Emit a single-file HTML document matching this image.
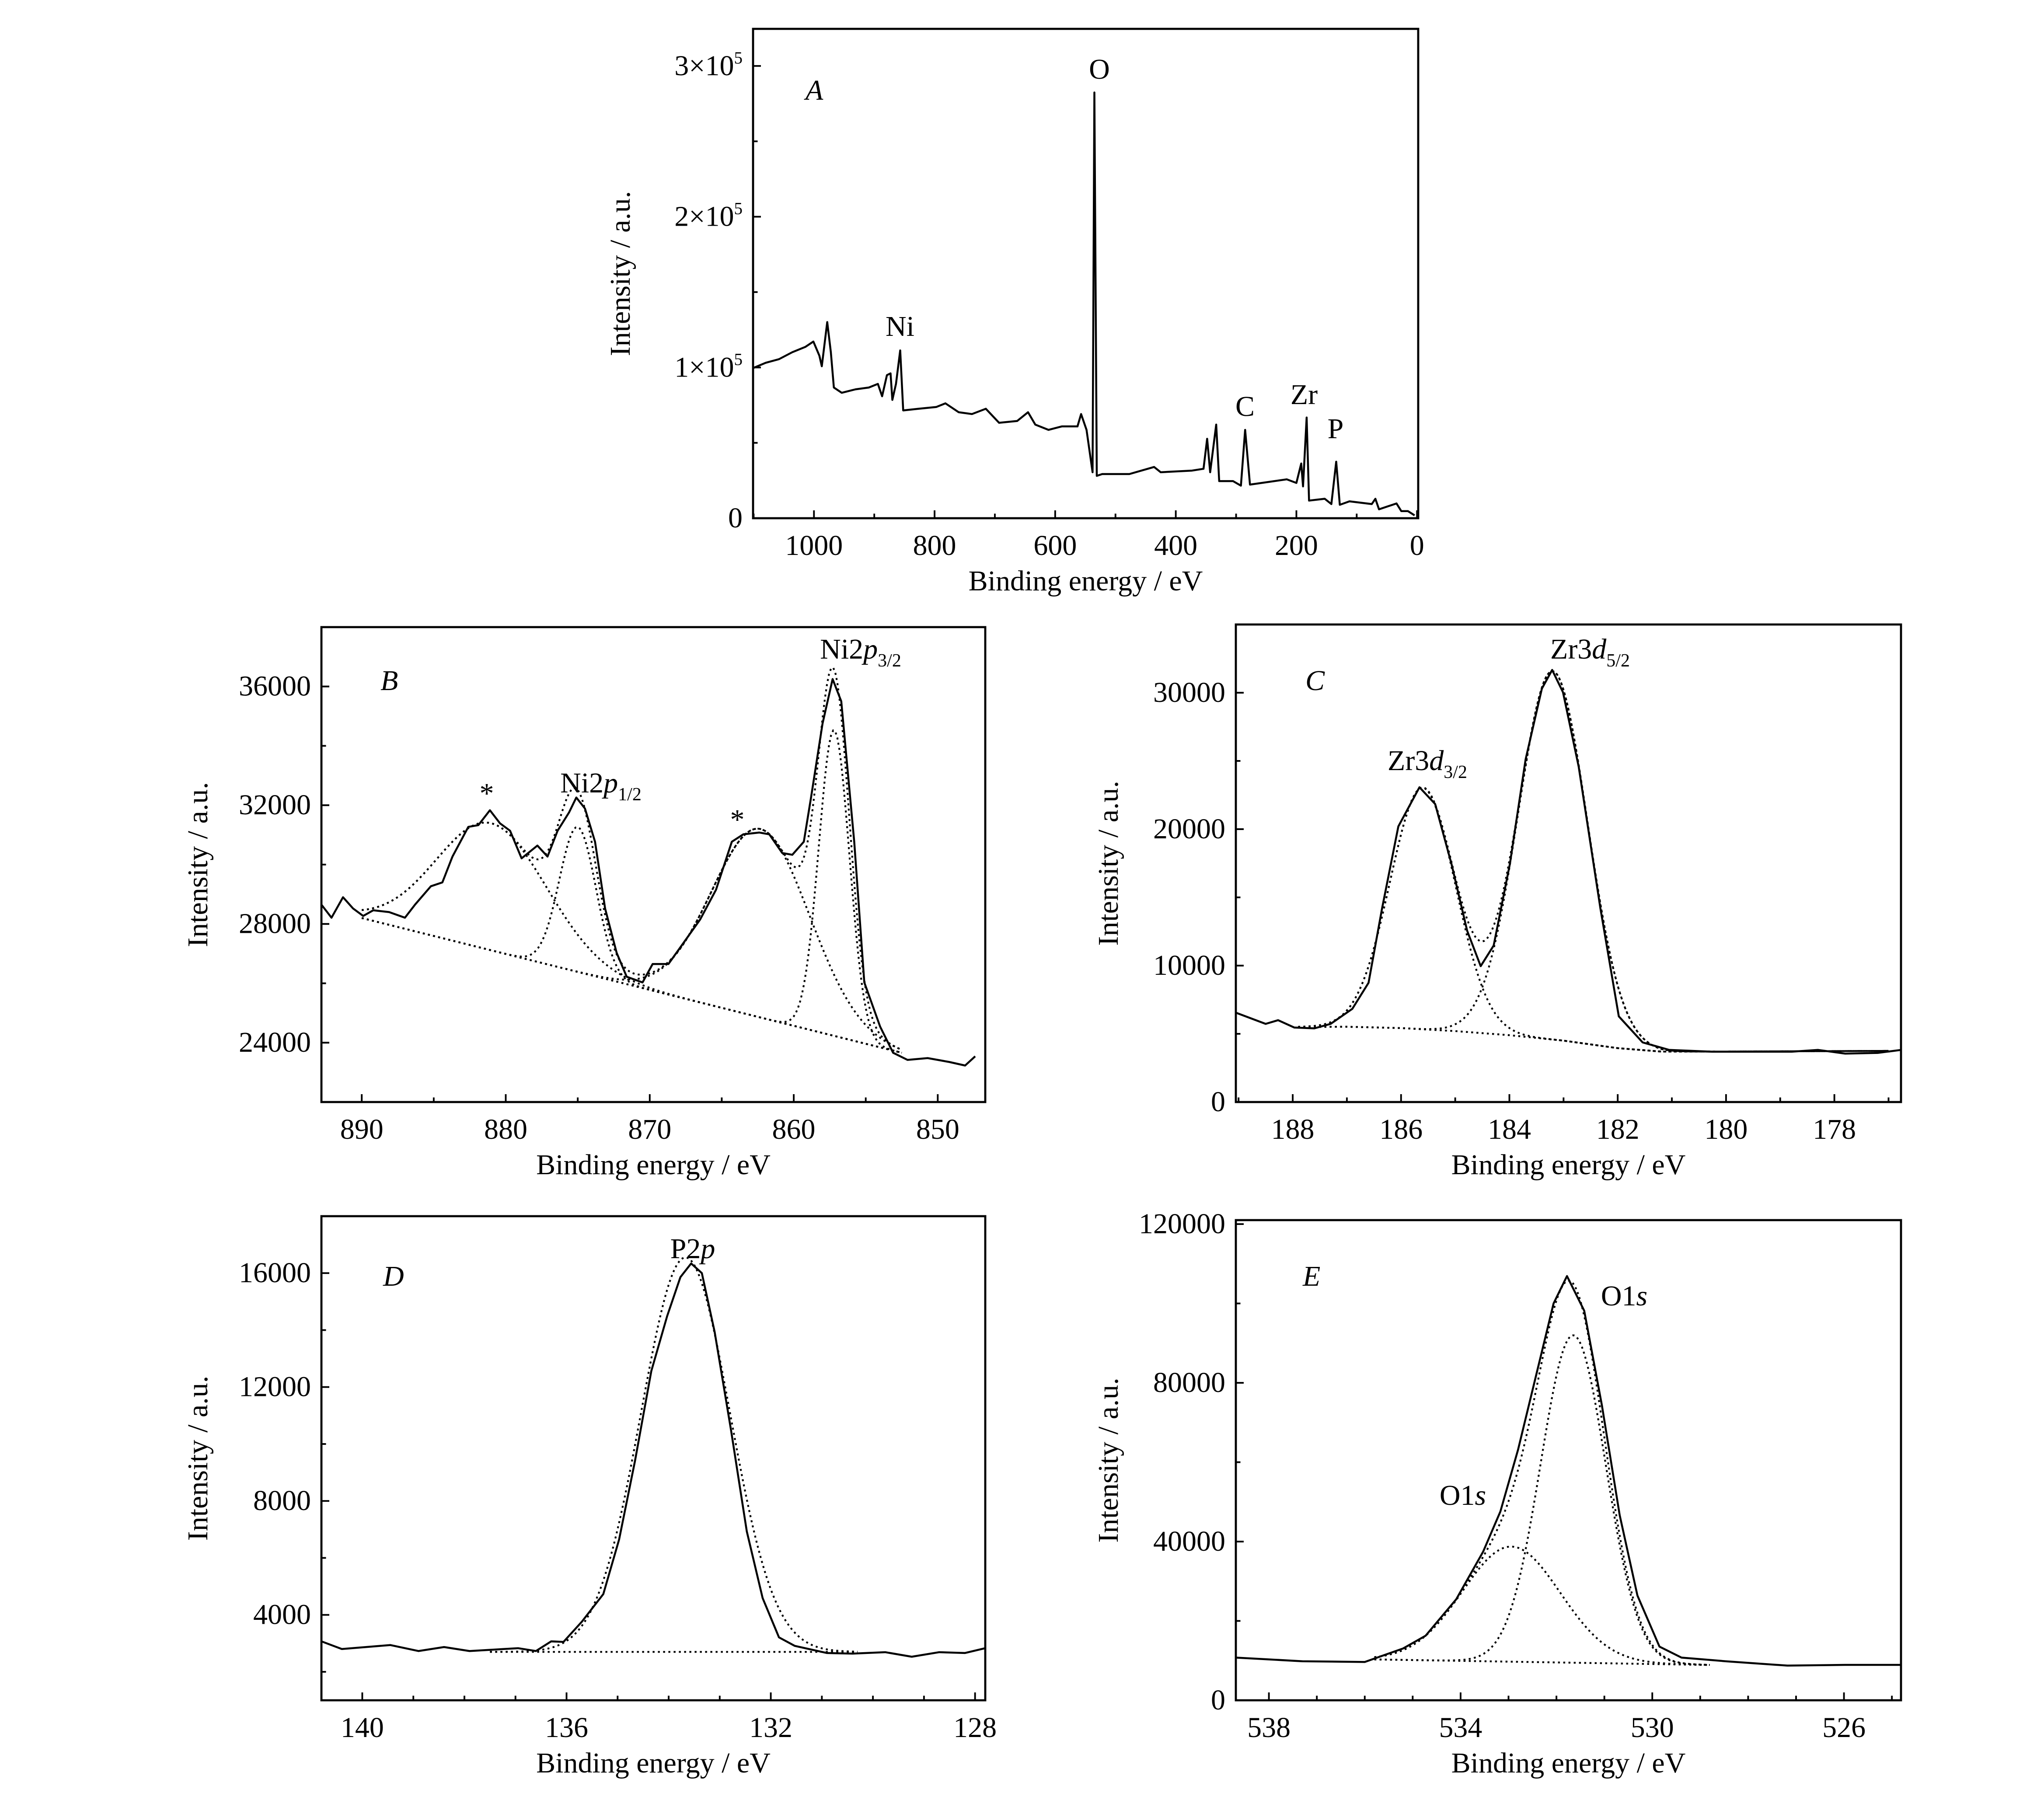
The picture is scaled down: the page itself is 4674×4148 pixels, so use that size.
<!DOCTYPE html>
<html><head><meta charset="utf-8"><style>
html,body{margin:0;padding:0;background:#fff;}
svg{display:block;}
text{font-family:"Liberation Serif",serif;fill:#000;}
</style></head><body>
<svg id="fig" xmlns="http://www.w3.org/2000/svg" width="4674" height="4148" viewBox="0 0 1558 1382.67"></svg>
<script>
// ---------- DATA ----------
// Panel A survey
const aEnergy=[1101,1080,1058,1036,1014,1001,991,987,978,972,967,954,931,909,894,887,879,873,870,864,857,852,827,797,782,760,738,715,693,663,645,633,611,589,563,557,548,538,535,531,522,477,436,425,373,354,348,343,333,328,305,292,285,277,216,200,192,189,183,179,153,142,134,128,112,75,69,63,34,26,15,4];
const aIntensity=[99600,103100,105500,110100,113700,117200,107800,100800,130100,110100,86700,83200,85500,86700,89100,80900,94900,96100,78500,89100,111300,71500,72600,73800,76200,70300,69100,72600,63300,64500,70300,62100,58600,60900,60900,69100,58600,30500,282400,28100,29300,29300,34000,30500,31600,32800,52700,30500,62100,24600,24600,21600,58600,22300,25800,23400,36300,21100,66800,11700,12900,9400,37500,8900,11200,9400,12900,5900,9800,4700,4700,1900];
const aTicksX=[1000,800,600,400,200,0];
const aTicksY=[0,100000,200000,300000];
const aTickLabelsY=["0","1","2","3"];
// Panel B Ni2p
const bEnergy=[892.8,892.1,891.3,890.6,889.9,889.2,888.1,887,886.3,885.2,884.4,883.7,882.6,881.9,881.1,880.4,879.7,878.9,877.8,877.1,876.4,875.6,875.1,874.5,873.8,873.1,872.3,871.6,870.5,869.8,868.7,867.6,866.5,865.4,864.3,863.5,862.4,861.7,860.8,860.1,859.3,858.8,858.0,857.3,856.7,855.8,855.1,854.0,853.1,852.1,850.7,849.2,848.1,847.4];
const bIntensity=[28650,28210,28900,28520,28270,28460,28400,28210,28650,29270,29400,30270,31270,31330,31830,31390,31140,30210,30640,30270,31140,31760,32260,31890,30770,28520,27030,26220,26030,26650,26650,27400,28150,29150,30770,31020,31080,31020,30390,30330,30770,32260,34750,36250,35500,30770,26030,24540,23660,23420,23480,23350,23230,23540];
const bBaseE=[890,852];
const bBaseI=[28200,23600];
const bPeakCenter=[881,875,862.3,857.2];
const bPeakHeight=[4280,4880,6350,10300];
const bPeakFwhm=[9,3,8,2.5];
const bTicksX=[890,880,870,860,850];
const bTicksY=[24000,28000,32000,36000];
// Panel C Zr3d
const cEnergy=[189.05,188.5,188.27,187.97,187.6,187.3,186.9,186.6,186.35,186.05,185.66,185.37,185.07,184.78,184.53,184.29,183.99,183.7,183.4,183.21,183.01,182.72,182.32,181.98,181.54,181.05,180.26,179.47,178.79,178.3,177.8,177.2,176.77];
const cIntensity=[6550,5730,6000,5460,5400,5730,6830,8740,14200,20200,23070,21840,17470,12560,9960,11470,17470,25120,30300,31670,30030,24570,14200,6280,4370,3820,3690,3690,3690,3820,3550,3600,3820];
const cBgE=[187.9,187,186,185,184,183,182,181.2,180,177];
const cBgI=[5500,5520,5420,5200,4900,4500,3950,3700,3700,3750];
const cPeakCenter=[185.6,183.2];
const cPeakHeight=[17700,27000];
const cPeakFwhm=[1.42,1.5];
const cTicksX=[188,186,184,182,180,178];
const cTicksY=[0,10000,20000,30000];
// Panel D P2p
const dEnergy=[140.8,140.4,139.45,138.9,138.4,137.9,136.95,136.6,136.3,136.06,135.7,135.28,134.97,134.66,134.34,134.03,133.77,133.56,133.35,133.1,132.78,132.47,132.16,131.84,131.53,130.9,130.4,129.76,129.24,128.7,128.2,127.8];
const dIntensity=[3070,2800,2940,2730,2870,2730,2830,2730,3070,3050,3760,4730,6650,9400,12560,14490,15860,16340,16000,13940,10500,6930,4590,3210,2910,2660,2640,2690,2530,2690,2660,2830];
const dBaseE=[137.5,130.3];
const dBaseI=[2700,2700];
const dPeakCenter=[133.67];
const dPeakHeight=[13850];
const dPeakFwhm=[2.05];
const dTicksX=[140,136,132,128];
const dTicksY=[4000,8000,12000,16000];
// Panel E O1s
const eEnergy=[538.69,537.3,536.0,535.2,534.73,534.09,533.53,533.17,532.8,532.43,532.06,531.78,531.42,531.05,530.68,530.31,529.85,529.39,528.47,527.18,525.98,524.81];
const eIntensity=[10760,9840,9660,13060,16280,25480,37440,47560,63200,81600,100000,106900,98160,74240,46640,26400,13520,10760,9840,8740,8920,8920];
const eBaseE=[535.8,528.8];
const eBaseI=[10300,8900];
const ePeakCenter=[531.65,532.94];
const ePeakHeight=[82500,29000];
const ePeakFwhm=[1.6,2.4];
const eTicksX=[538,534,530,526];
const eTicksY=[0,40000,80000,120000];

// ---------- DRAW ----------
const NS="http://www.w3.org/2000/svg";
const svg=document.getElementById('fig');
function mk(tag,attrs,parent){const e=document.createElementNS(NS,tag);for(const k in attrs)e.setAttribute(k,attrs[k]);(parent||svg).appendChild(e);return e;}
function scales(p){
  const sx=v=>p.x0+(p.eMax-v)/(p.eMax-p.eMin)*(p.x1-p.x0);
  const sy=v=>p.y1-(v-p.iMin)/(p.iMax-p.iMin)*(p.y1-p.y0);
  return [sx,sy];
}
function gauss(E,c,h,f){const s=f/2.3548;return h*Math.exp(-0.5*((E-c)/s)**2);}
function lin(E,xs,ys){
  if(E>=xs[0])return ys[0];
  for(let i=1;i<xs.length;i++){if(E>=xs[i]){const t=(xs[i-1]-E)/(xs[i-1]-xs[i]);return ys[i-1]+t*(ys[i]-ys[i-1]);}}
  return ys[ys.length-1];
}
function pathFrom(xs,ys,sx,sy){let d='';for(let i=0;i<xs.length;i++)d+=(i?'L':'M')+sx(xs[i]).toFixed(2)+' '+sy(ys[i]).toFixed(2);return d;}

function frame(p,g){
  const [sx,sy]=scales(p);
  const box=mk('rect',{x:p.x0,y:p.y0,width:p.x1-p.x0,height:p.y1-p.y0,fill:'none',stroke:'#000','stroke-width':1.6},g);
  
  
  for(let v=Math.ceil(p.eMin/p.xMinor)*p.xMinor;v<=p.eMax+1e-9;v+=p.xMinor){
    const major=p.ticksX.some(t=>Math.abs(t-v)<1e-6);
    const x=sx(v);if(x<p.x0-0.5||x>p.x1+0.5)continue;
    mk('line',{x1:x,x2:x,y1:p.y1,y2:p.y1-(major?6:3.5),stroke:'#000','stroke-width':1.3},g);
  }
  p.ticksX.forEach(t=>{
    const tl=mk('text',{x:sx(t),y:p.y1+28,'font-size':22,'text-anchor':'middle'},g);
    tl.textContent=String(t);
    
    
  });
  for(let v=Math.ceil(p.iMin/p.yMinor)*p.yMinor;v<=p.iMax+1e-9;v+=p.yMinor){
    const major=p.ticksY.some(t=>Math.abs(t-v)<1e-6);
    const y=sy(v);if(y<p.y0-0.5||y>p.y1+0.5)continue;
    mk('line',{x1:p.x0,x2:p.x0+(major?6:3.5),y1:y,y2:y,stroke:'#000','stroke-width':1.3},g);
  }
  p.ticksY.forEach((t,i)=>{
    const tl=mk('text',{x:p.x0-8,y:sy(t)+7,'font-size':22,'text-anchor':'end'},g);
    if(p.sci){
      if(t===0){tl.textContent='0';}
      else{tl.textContent=p.sci[i]+'\u00d710';const s=mk('tspan',{'font-size':13,dy:-9},tl);s.textContent='5';}
    } else tl.textContent=String(t);
    
    
  });
  const xt=mk('text',{x:(p.x0+p.x1)/2,y:p.y1+55,'font-size':22,'text-anchor':'middle'},g);
  xt.textContent='Binding energy / eV';
  
  
  const yc=(p.y0+p.y1)/2;
  const yt=mk('text',{x:p.ytx,y:yc,'font-size':22,'text-anchor':'middle',transform:`rotate(-90 ${p.ytx} ${yc})`},g);
  yt.textContent='Intensity / a.u.';
  
  
  const lt=mk('text',{x:p.letter[0],y:p.letter[1],'font-size':22,'font-style':'italic'},g);
  lt.textContent=p.name;
  
  
  return [sx,sy];
}
function label(g,x,y,parts,size){
  const t=mk('text',{x:x,y:y,'font-size':size||22,'text-anchor':'middle'},g);
  parts.forEach(pt=>{const s=mk('tspan',pt.a||{},t);s.textContent=pt.t;});
  
  
  return t;
}
function fitCurves(g,sx,sy,eFrom,eTo,bgFn,centers,heights,fwhms,envRange){
  const N=260;
  let d='';
  for(let i=0;i<=N;i++){const E=eFrom+(eTo-eFrom)*i/N;d+=(i?'L':'M')+sx(E).toFixed(2)+' '+sy(bgFn(E)).toFixed(2);}
  const bg=mk('path',{d:d,fill:'none',stroke:'#000','stroke-width':1.4,'stroke-dasharray':'1.5 2.5'},g);
  
  
  centers.forEach((c,k)=>{
    let dd='';
    for(let i=0;i<=N;i++){const E=eFrom+(eTo-eFrom)*i/N;dd+=(i?'L':'M')+sx(E).toFixed(2)+' '+sy(bgFn(E)+gauss(E,c,heights[k],fwhms[k])).toFixed(2);}
    const pc=mk('path',{d:dd,fill:'none',stroke:'#000','stroke-width':1.4,'stroke-dasharray':'1.5 2.5'},g);
    
    
  });
  if(envRange){
    let de='';
    for(let i=0;i<=N;i++){const E=envRange[0]+(envRange[1]-envRange[0])*i/N;let v=bgFn(E);centers.forEach((c,k)=>{v+=gauss(E,c,heights[k],fwhms[k]);});de+=(i?'L':'M')+sx(E).toFixed(2)+' '+sy(v).toFixed(2);}
    const en=mk('path',{d:de,fill:'none',stroke:'#000','stroke-width':1.4,'stroke-dasharray':'1.5 2.5'},g);
    
    
  }
}
function dataLine(g,xs,ys,sx,sy){
  const l=mk('path',{d:pathFrom(xs,ys,sx,sy),fill:'none',stroke:'#000','stroke-width':1.5,'stroke-linejoin':'round'},g);
  
  
}

// Panel A
(function(){
  const g=mk('g',{});
  const p={name:'A',x0:574,x1:1081,y0:22,y1:395,eMax:1101,eMin:-2,iMin:0,iMax:324600,ticksX:aTicksX,ticksY:aTicksY,xMinor:100,yMinor:50000,sci:aTickLabelsY,ytx:480,letter:[614,76]};
  const [sx,sy]=frame(p,g);
  dataLine(g,aEnergy,aIntensity,sx,sy);
  label(g,838,60,[{t:'O'}]);label(g,686,256,[{t:'Ni'}]);label(g,949,317,[{t:'C'}]);label(g,994,308,[{t:'Zr'}]);label(g,1018,334,[{t:'P'}]);
})();
// Panel B
(function(){
  const g=mk('g',{});
  const p={name:'B',x0:245,x1:751,y0:478,y1:840,eMax:892.8,eMin:846.7,iMin:22000,iMax:38000,ticksX:bTicksX,ticksY:bTicksY,xMinor:5,yMinor:2000,ytx:158,letter:[290,526]};
  const [sx,sy]=frame(p,g);
  const bgFn=E=>lin(E,bBaseE,bBaseI);
  fitCurves(g,sx,sy,890,852.5,bgFn,bPeakCenter,bPeakHeight,bPeakFwhm,[890,852.5]);
  dataLine(g,bEnergy,bIntensity,sx,sy);
  label(g,371,612,[{t:'*'}]);
  label(g,458,604,[{t:'Ni2'},{t:'p',a:{'font-style':'italic'}},{t:'1/2',a:{'font-size':14,dy:6}}]);
  label(g,562,632,[{t:'*'}]);
  label(g,656,502,[{t:'Ni2'},{t:'p',a:{'font-style':'italic'}},{t:'3/2',a:{'font-size':14,dy:6}}]);
})();
// Panel C
(function(){
  const g=mk('g',{});
  const p={name:'C',x0:942,x1:1449,y0:476,y1:840,eMax:189.05,eMin:176.77,iMin:0,iMax:35000,ticksX:cTicksX,ticksY:cTicksY,xMinor:1,yMinor:5000,ytx:852,letter:[995,526]};
  const [sx,sy]=frame(p,g);
  const bgFn=E=>lin(E,cBgE,cBgI);
  fitCurves(g,sx,sy,187.9,177,bgFn,cPeakCenter,cPeakHeight,cPeakFwhm,[187.9,177]);
  dataLine(g,cEnergy,cIntensity,sx,sy);
  label(g,1088,587,[{t:'Zr3'},{t:'d',a:{'font-style':'italic'}},{t:'3/2',a:{'font-size':14,dy:6}}]);
  label(g,1212,502,[{t:'Zr3'},{t:'d',a:{'font-style':'italic'}},{t:'5/2',a:{'font-size':14,dy:6}}]);
})();
// Panel D
(function(){
  const g=mk('g',{});
  const p={name:'D',x0:245,x1:751,y0:927,y1:1296,eMax:140.8,eMin:127.8,iMin:1000,iMax:18000,ticksX:dTicksX,ticksY:dTicksY,xMinor:1,yMinor:2000,ytx:158,letter:[292,980]};
  const [sx,sy]=frame(p,g);
  const bgFn=E=>lin(E,dBaseE,dBaseI);
  fitCurves(g,sx,sy,137.5,130.3,bgFn,dPeakCenter,dPeakHeight,dPeakFwhm,null);
  dataLine(g,dEnergy,dIntensity,sx,sy);
  label(g,528,959,[{t:'P2'},{t:'p',a:{'font-style':'italic'}}]);
})();
// Panel E
(function(){
  const g=mk('g',{});
  const p={name:'E',x0:942,x1:1449,y0:930,y1:1296,eMax:538.69,eMin:524.81,iMin:0,iMax:121000,ticksX:eTicksX,ticksY:eTicksY,xMinor:1,yMinor:20000,ytx:852,letter:[993,980]};
  const [sx,sy]=frame(p,g);
  const bgFn=E=>lin(E,eBaseE,eBaseI);
  fitCurves(g,sx,sy,535.8,528.8,bgFn,ePeakCenter,ePeakHeight,ePeakFwhm,[535.8,528.8]);
  dataLine(g,eEnergy,eIntensity,sx,sy);
  label(g,1238,995,[{t:'O1'},{t:'s',a:{'font-style':'italic'}}]);
  label(g,1115,1147,[{t:'O1'},{t:'s',a:{'font-style':'italic'}}]);
})();
</script>
</body></html>
